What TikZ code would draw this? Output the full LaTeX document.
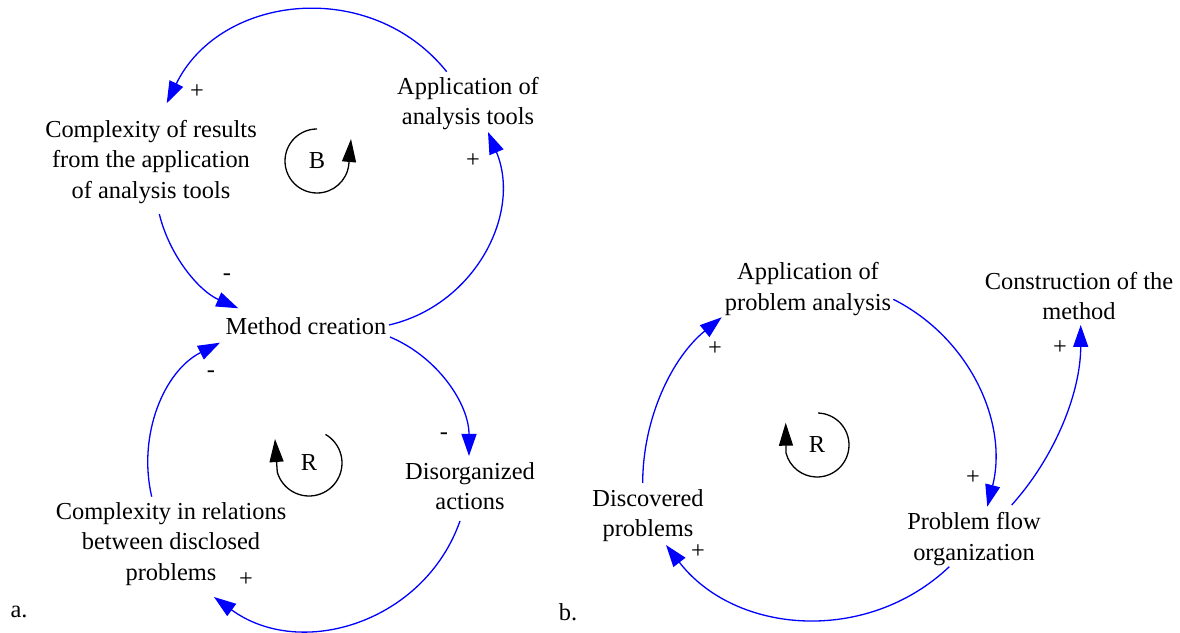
\documentclass[tikz,border=0pt]{standalone}
\usepackage{fontspec}
\setmainfont{Liberation Serif}
\usetikzlibrary{arrows.meta}
\begin{document}
\begin{tikzpicture}[x=1pt,y=1pt,
  lbl/.style={font=\fontsize{24.4}{30.5}\selectfont, align=center, inner sep=0pt},
  sign/.style={font=\fontsize{24.4}{30.5}\selectfont, inner sep=0pt},
  link/.style={draw=blue, line width=1.3pt, -{Triangle[length=22pt,width=15pt]}},
  loopln/.style={draw=black, line width=1.3pt, -{Triangle[length=23pt,width=14pt]}},
]
\useasboundingbox (0,0) rectangle (1180,632);

% ---------- left diagram (a) ----------
\node[lbl] (aat) at (468,528.5) {Application of\\analysis tools};
\node[lbl] (cr)  at (151,470) {Complexity of results\\from the application\\of analysis tools};
\node[lbl] (mc)  at (306,306) {Method creation};
\node[lbl] (da)  at (470,146) {Disorganized\\actions};
\node[lbl] (cir) at (171,88) {Complexity in relations\\between disclosed\\problems};
\node[sign] (la) at (19,20) {a.};

\draw[link] ([shift={(-21.3,31.8)}]aat.center) .. controls +(128.8:121.6) and +(63.9:121.6) .. ([shift={(15.7,58.7)}]cr.center);
\draw[link] ([shift={(83,1)}]mc.center) .. controls +(13:88.1) and +(-67.2:88.1) .. ([shift={(20,-28.5)}]aat.center);
\draw[link] ([shift={(8.3,-52)}]cr.center) .. controls +(-76.3:43.1) and +(156.2:43.1) .. ([shift={(-67.7,17.7)}]mc.center);
\draw[link] ([shift={(-19.3,47.3)}]cir.center) .. controls +(103.1:63.1) and +(206.9:63.1) .. ([shift={(-86,-16.7)}]mc.center);
\draw[link] ([shift={(84,-11)}]mc.center) .. controls +(-22.8:51.9) and +(90:51.9) .. ([shift={(-1,30)}]da.center);
\draw[link] ([shift={(-10,-35)}]da.center) .. controls +(-109.4:107.5) and +(-36.2:107.5) .. ([shift={(43,-53)}]cir.center);

\node[sign] (s1) at (197,540) {+};
\node[sign] (s2) at (473,471) {+};
\node[sign] (s3) at (227,355) {-};
\node[sign] (s4) at (211,258) {-};
\node[sign] (s5) at (444,196) {-};
\node[sign] (s6) at (246,52) {+};

\node[sign] (lb) at (317,471) {B};
\draw[loopln] ([shift={(90:32)}]lb.center) arc[start angle=90, end angle=353, radius=32] -- ([shift={(34,22)}]lb.center);
\node[sign] (lr) at (309,169) {R};
\draw[loopln] ([shift={(60:33)}]lr.center) arc[start angle=60, end angle=-164, radius=33] -- ([shift={(-34,24)}]lr.center);

% ---------- right diagram (b) ----------
\node[lbl] (apa) at (808,343) {Application of\\problem analysis};
\node[lbl] (cm)  at (1079,336) {Construction of the\\method};
\node[lbl] (dp)  at (648,116.5) {Discovered\\problems};
\node[lbl] (pfo) at (974,93) {Problem flow\\organization};
\node[sign] (lbb) at (568,20) {b.};

\draw[link] ([shift={(-5.3,32.5)}]dp.center) .. controls +(90:64.3) and +(219:64.3) .. ([shift={(-86.3,-28.3)}]apa.center);
\draw[link] ([shift={(85.3,-10.3)}]apa.center) .. controls +(-26.8:86.1) and +(75.8:86.1) .. ([shift={(13.3,32.3)}]pfo.center);
\draw[link] ([shift={(-24.7,-27.7)}]pfo.center) .. controls +(-136.5:113.4) and +(-52.3:113.4) .. ([shift={(18,-29.5)}]dp.center);
\draw[link] ([shift={(37.7,34)}]pfo.center) .. controls +(48.1:66.4) and +(-90:66.4) .. ([shift={(1.7,-29)}]cm.center);

\node[sign] (s7) at (715,283) {+};
\node[sign] (s8) at (973,154) {+};
\node[sign] (s9) at (698,80) {+};
\node[sign] (s10) at (1060,284) {+};

\node[sign] (rr) at (817,187) {R};
\draw[loopln] ([shift={(88:32)}]rr.center) arc[start angle=88, end angle=-165, radius=32] -- ([shift={(-31.3,22.3)}]rr.center);
\end{tikzpicture}
\end{document}
